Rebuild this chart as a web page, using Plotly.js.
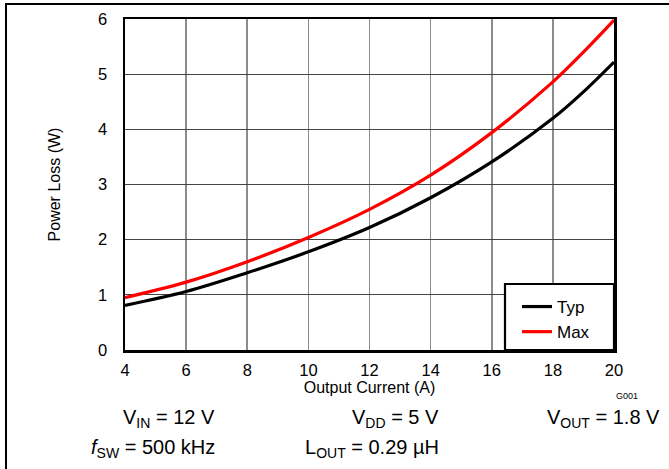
<!DOCTYPE html>
<html>
<head>
<meta charset="utf-8">
<script src="https://cdn.plot.ly/plotly-3.0.1.min.js"></script>
<style>html,body{margin:0;padding:0;background:#fff;}#chart{width:669px;height:469px;}</style>
</head>
<body>
<div id="chart"></div>
<script>
const current = [4, 6, 8, 10, 12, 14, 16, 18, 19, 20];
const typLoss = [0.81, 1.06, 1.40, 1.78, 2.22, 2.76, 3.41, 4.20, 4.68, 5.22];
const maxLoss = [0.95, 1.23, 1.60, 2.04, 2.55, 3.17, 3.94, 4.86, 5.40, 5.98];
const xTicks = [4, 6, 8, 10, 12, 14, 16, 18, 20];
const yTicks = [0, 1, 2, 3, 4, 5, 6];
const seriesNames = ["Typ", "Max"];

const FONT = "Liberation Sans, Arial, Helvetica, sans-serif";
const L = 125, R = 614, T = 19, B = 350;
const px = x => (x - L) / (R - L);
const py = y => (B - y) / (B - T);

const traces = [
  {x: current, y: typLoss, name: seriesNames[0], mode: "lines",
   line: {color: "#000000", width: 3.2, shape: "spline", smoothing: 1}},
  {x: current, y: maxLoss, name: seriesNames[1], mode: "lines",
   line: {color: "#ff0000", width: 3.2, shape: "spline", smoothing: 1}}
];

const annFont = {family: FONT, size: 20, color: "#000"};
const layout = {
  width: 669, height: 469,
  margin: {l: L, r: 669 - R, t: T, b: 469 - B, pad: 0},
  paper_bgcolor: "#fff", plot_bgcolor: "#fff",
  font: {family: FONT, size: 16, color: "#000"},
  showlegend: true,
  legend: {x: px(517), y: py(289), xanchor: "left", yanchor: "top",
           borderwidth: 0, bgcolor: "rgba(0,0,0,0)",
           font: {family: FONT, size: 17, color: "#000"},
           tracegroupgap: 0, itemwidth: 30},
  xaxis: {range: [4, 20], tickvals: xTicks, ticktext: xTicks.map(String),
          showgrid: true, gridcolor: "#8c8c8c", gridwidth: 1.6,
          showline: true, linecolor: "#000", linewidth: 2.5, mirror: true,
          ticks: "", ticklabelstandoff: 4, zeroline: false,
          tickfont: {family: FONT, size: 16.5, color: "#000"},
          title: {text: "Output Current (A)", standoff: 1,
                  font: {family: FONT, size: 16, color: "#000"}}},
  yaxis: {range: [0, 6], tickvals: yTicks, ticktext: yTicks.map(String),
          showgrid: true, gridcolor: "#444", gridwidth: 1,
          showline: true, linecolor: "#000", linewidth: 2.5, mirror: true,
          ticks: "", ticklabelstandoff: 12, zeroline: false,
          tickfont: {family: FONT, size: 16.5, color: "#000"},
          title: {text: "Power Loss (W)", standoff: 34,
                  font: {family: FONT, size: 16, color: "#000"}}},
  shapes: [
    {type: "line", xref: "paper", yref: "paper", x0: px(6), x1: px(6), y0: py(4), y1: py(469),
     line: {color: "#000", width: 2}},
    {type: "line", xref: "paper", yref: "paper", x0: px(5), x1: px(669), y0: py(4), y1: py(4),
     line: {color: "#000", width: 2}},
    {type: "rect", xref: "paper", yref: "paper", layer: "above",
     x0: px(505), x1: px(614), y0: py(350), y1: py(284),
     fillcolor: "#fff", line: {color: "#000", width: 2.2}}
  ],
  annotations: [
    {xref: "paper", yref: "paper", x: px(627), y: py(396), text: "G001", showarrow: false,
     xanchor: "center", yanchor: "middle", font: {family: FONT, size: 9, color: "#000"}},
    {xref: "paper", yref: "paper", x: px(217), y: py(418), text: "V<sub>IN</sub> = 12 V", showarrow: false,
     xanchor: "right", yanchor: "middle", font: annFont},
    {xref: "paper", yref: "paper", x: px(441), y: py(418), text: "V<sub>DD</sub> = 5 V", showarrow: false,
     xanchor: "right", yanchor: "middle", font: annFont},
    {xref: "paper", yref: "paper", x: px(662), y: py(418), text: "V<sub>OUT</sub> = 1.8 V", showarrow: false,
     xanchor: "right", yanchor: "middle", font: annFont},
    {xref: "paper", yref: "paper", x: px(217), y: py(448), text: "<i>f</i><sub>SW</sub> = 500 kHz", showarrow: false,
     xanchor: "right", yanchor: "middle", font: annFont},
    {xref: "paper", yref: "paper", x: px(441), y: py(448), text: "L<sub>OUT</sub> = 0.29 µH", showarrow: false,
     xanchor: "right", yanchor: "middle", font: annFont}
  ]
};

Plotly.newPlot("chart", traces, layout, {displayModeBar: false, staticPlot: true});
</script>
</body>
</html>
